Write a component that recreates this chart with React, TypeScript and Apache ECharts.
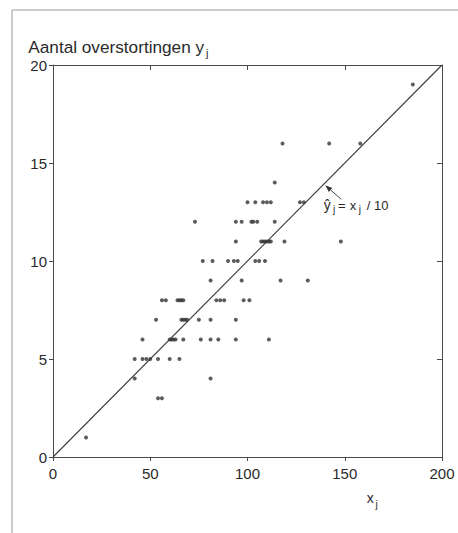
import { useEffect, useRef } from "react";
import * as echarts from "echarts";

// ---- data ----
const xTicks = [0, 50, 100, 150, 200];
const yTicks = [0, 5, 10, 15, 20];
// number of overflows (y) and the x-values of the observations at that level
const yLevels = [1, 3, 4, 5, 6, 7, 8, 9, 10, 11, 12, 13, 14, 16, 19];
const xByLevel = [
  [17],
  [54, 56],
  [42, 81],
  [42, 46, 48, 50, 54, 60, 65],
  [46, 60, 61, 62, 63, 67, 76, 81, 85, 94, 111],
  [53, 66, 67, 68, 69, 75, 81, 94],
  [56, 58, 64, 65, 66, 67, 84, 86, 88, 98, 101],
  [81, 97, 117, 131],
  [77, 82, 90, 93, 95, 104, 106, 109],
  [94, 107, 108, 109, 110, 111, 112, 119, 148],
  [73, 94, 97, 102, 103, 105, 114],
  [100, 104, 108, 110, 112, 127, 129],
  [114],
  [118, 142, 158],
  [185],
];
const fitLineX = [0, 200];
const fitLineY = [0, 20];
const arrowTip = [140, 13.86];

const FONT = "'Liberation Sans', Arial, Helvetica, sans-serif";
const AXIS = "#4a4a4a";
const TEXT = "#2a2a2a";

function txt(text: string, x: number, baseline: number, fs: number) {
  return {
    type: "text",
    x,
    y: baseline - 0.35 * fs,
    silent: true,
    style: {
      text,
      fill: TEXT,
      fontSize: fs,
      fontFamily: FONT,
      align: "left",
      verticalAlign: "middle",
      textAlign: "left",
      textVerticalAlign: "middle",
    },
  };
}

export default function App() {
  const ref = useRef<HTMLDivElement>(null);

  useEffect(() => {
    const chart = echarts.init(ref.current!, null, { renderer: "svg" });
    const points: number[][] = [];
    yLevels.forEach((y, i) => xByLevel[i].forEach((x) => points.push([x, y])));
    const fitLine = fitLineX.map((x, i) => [x, fitLineY[i]]);

    const baseX = {
      type: "value",
      min: xTicks[0],
      max: xTicks[xTicks.length - 1],
      interval: xTicks[1] - xTicks[0],
      splitLine: { show: false },
      axisLine: { show: true, onZero: false, lineStyle: { color: AXIS, width: 1 } },
    };
    const baseY = {
      type: "value",
      min: yTicks[0],
      max: yTicks[yTicks.length - 1],
      interval: yTicks[1] - yTicks[0],
      splitLine: { show: false },
      axisLine: { show: true, onZero: false, lineStyle: { color: AXIS, width: 1 } },
    };

    chart.setOption({
      animation: false,
      backgroundColor: "#ffffff",
      grid: { left: 53, top: 65, width: 389, height: 392, containLabel: false },
      xAxis: [
        {
          ...baseX,
          position: "bottom",
          axisTick: { show: true, inside: false, length: 4, lineStyle: { color: AXIS } },
          axisLabel: { show: true, fontSize: 15, color: TEXT, fontFamily: FONT, margin: 9 },
        },
        {
          ...baseX,
          position: "top",
          axisTick: { show: true, inside: true, length: 5, lineStyle: { color: AXIS } },
          axisLabel: { show: false },
        },
      ],
      yAxis: [
        {
          ...baseY,
          position: "left",
          axisTick: { show: true, inside: false, length: 4, lineStyle: { color: AXIS } },
          axisLabel: { show: true, fontSize: 15, color: TEXT, fontFamily: FONT, margin: 6 },
        },
        {
          ...baseY,
          position: "right",
          axisTick: { show: true, inside: true, length: 5, lineStyle: { color: AXIS } },
          axisLabel: { show: false },
        },
      ],
      series: [
        {
          type: "scatter",
          xAxisIndex: 0,
          yAxisIndex: 0,
          data: points,
          symbol: "circle",
          symbolSize: 4,
          itemStyle: { color: "#333333" },
        },
        {
          type: "line",
          xAxisIndex: 0,
          yAxisIndex: 0,
          data: fitLine,
          symbol: "none",
          lineStyle: { color: "#3a3a3a", width: 1.1 },
        },
      ],
    });

    const tip = chart.convertToPixel({ seriesIndex: 1 }, arrowTip) as number[];
    const tx = tip[0];
    const ty = tip[1];
    const tail = [tx + 16, ty + 14];
    const len = Math.hypot(tail[0] - tx, tail[1] - ty);
    const ux = (tail[0] - tx) / len;
    const uy = (tail[1] - ty) / len;
    const headLen = 7;
    const headHalf = 2.6;
    const bx = tx + ux * headLen;
    const by = ty + uy * headLen;

    chart.setOption({
      graphic: [
        // page border of the scan
        { type: "line", silent: true, shape: { x1: 12, y1: 10, x2: 458, y2: 10 }, style: { stroke: "#9a9a9a", lineWidth: 1 } },
        { type: "line", silent: true, shape: { x1: 12, y1: 10, x2: 12, y2: 533 }, style: { stroke: "#9a9a9a", lineWidth: 1 } },
        // y-axis title
        txt("Aantal overstortingen y", 28.3, 53.3, 17.2),
        txt("j", 206, 56.5, 11),
        // x-axis title
        txt("x", 366.7, 503, 14),
        txt("j", 375.5, 507.5, 10),
        // annotation arrow
        {
          type: "line",
          silent: true,
          shape: { x1: bx, y1: by, x2: tail[0], y2: tail[1] },
          style: { stroke: "#444", lineWidth: 1 },
        },
        {
          type: "polygon",
          silent: true,
          shape: {
            points: [
              [tx, ty],
              [bx - uy * headHalf, by + ux * headHalf],
              [bx + uy * headHalf, by - ux * headHalf],
            ],
          },
          style: { fill: "#333" },
        },
        // annotation text
        txt("ŷ", tx - 1.5, ty + 24.7, 14),
        txt("j", tx + 7.7, ty + 27.5, 10),
        txt("=", tx + 12.7, ty + 24.7, 13),
        txt("x", tx + 24.4, ty + 24.7, 13),
        txt("j", tx + 33.4, ty + 27.5, 10),
        txt("/ 10", tx + 41.5, ty + 24.7, 13),
      ],
    });

    return () => chart.dispose();
  }, []);

  return (
    <div
      ref={ref}
      style={{ position: "fixed", left: 0, top: 0, width: 458, height: 533, background: "#fff" }}
    />
  );
}
